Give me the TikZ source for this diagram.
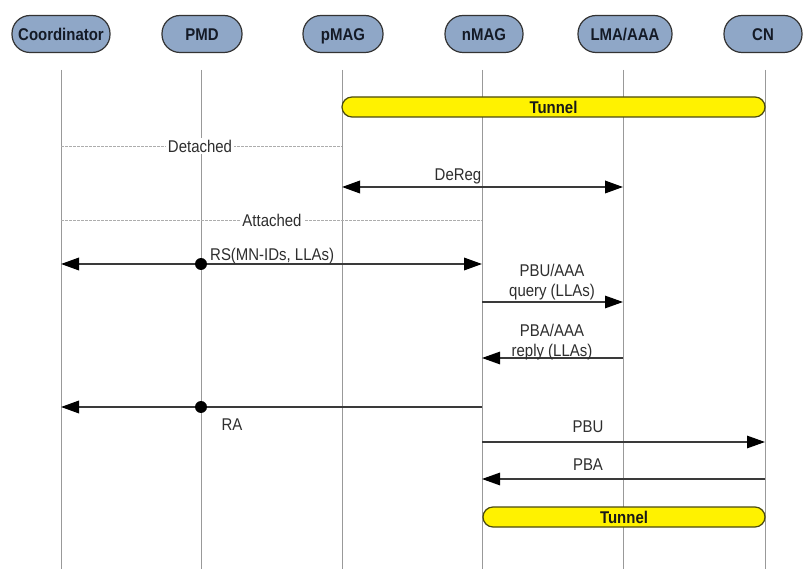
\documentclass[tikz,border=0pt]{standalone}
\usepackage{fontspec}
\setmainfont{Liberation Sans}[FakeStretch=0.88]
\usetikzlibrary{arrows.meta}
\definecolor{hdrfill}{HTML}{8FA7C7}
\definecolor{hdrtext}{HTML}{141A26}
\definecolor{msgcol}{HTML}{3A3A3A}
\definecolor{lblcol}{HTML}{2E2E2E}
\definecolor{tunborder}{HTML}{4A4A10}
\tikzset{
  tip/.tip={Triangle[length=18pt,width=12.5pt,fill=black,color=black]},
  hdr/.style={draw=black!80, line width=1.2pt, fill=hdrfill, rounded corners=18pt,
    minimum height=37pt, minimum width=80pt, inner sep=2pt, text=hdrtext,
    text height=12.5pt, text depth=0pt,
    font=\bfseries\fontsize{17}{20}\selectfont},
  life/.style={draw=black!40, line width=0.8pt},
  sep/.style={draw=black!32, line width=0.8pt, dash pattern=on 2.5pt off 1.5pt},
  tunnel/.style={draw=tunborder, line width=1.2pt, fill=yellow, rounded corners=10pt,
    minimum height=20pt, inner sep=0pt, text=black!90,
    font=\bfseries\fontsize{17}{20}\selectfont},
  msg/.style={draw=msgcol, line width=1.4pt, -tip},
  msgthick/.style={draw=msgcol, line width=1.9pt, -tip},
  dmsg/.style={draw=msgcol, line width=1.9pt, tip-tip},
  lbl/.style={text=lblcol, font=\fontsize{17}{20}\selectfont, inner sep=1pt, align=center},
  seplbl/.style={lbl, fill=white, inner sep=2pt},
  dot/.style={fill=black}
}
\begin{document}
\begin{tikzpicture}[x=1pt,y=-1pt]
\useasboundingbox (0,0) rectangle (804,569);
\fill[white] (0,0) rectangle (804,569);

% headers
\node[hdr, minimum width=98pt] (coord) at (61,34) {Coordinator};
\node[hdr] (pmd) at (202,34) {PMD};
\node[hdr] (pmag) at (343,34) {pMAG};
\node[hdr, minimum width=78pt] (nmag) at (484,34) {nMAG};
\node[hdr, minimum width=94pt] (lma) at (625,34) {LMA/AAA};
\node[hdr, minimum width=78pt] (cn) at (763,34) {CN};

% lifelines
\coordinate (l1t) at (61,70);  \coordinate (l1b) at (61,569);
\coordinate (l2t) at (201,70); \coordinate (l2b) at (201,569);
\coordinate (l3t) at (342,70); \coordinate (l3b) at (342,569);
\coordinate (l4t) at (482,70); \coordinate (l4b) at (482,569);
\coordinate (l5t) at (623,70); \coordinate (l5b) at (623,569);
\coordinate (l6t) at (765,70); \coordinate (l6b) at (765,569);
\foreach \i in {1,...,6} { \draw[life] (l\i t) -- (l\i b); }

% tunnel 1
\node[tunnel, minimum width=423pt] (tun1) at (553.5,107) {Tunnel};

% detached
\coordinate (d0) at (61,146); \coordinate (d1) at (342,146);
\draw[sep] (d0) -- (d1);
\node[seplbl] (detl) at (200,146) {Detached};

% DeReg
\coordinate (dr0) at (342,187); \coordinate (dr1) at (623,187);
\draw[dmsg] (dr0) -- (dr1);
\node[lbl, anchor=south] (drl) at (458,185) {DeReg};

% attached
\coordinate (a0) at (61,220); \coordinate (a1) at (482,220);
\draw[sep] (a0) -- (a1);
\node[seplbl] (attl) at (272,220) {Attached};

% RS
\coordinate (rs0) at (61,264); \coordinate (rsd) at (201,264); \coordinate (rs1) at (482,264);
\draw[msgthick] (rsd) -- (rs0);
\draw[msgthick] (rsd) -- (rs1);
\fill[dot] (rsd) circle (6);
\node[lbl, anchor=south west] (rsl) at (209,265) {RS(MN-IDs, LLAs)};

% PBU/AAA query
\coordinate (q0) at (482,302); \coordinate (q1) at (623,302);
\draw[msg] (q0) -- (q1);
\node[lbl, anchor=south] (ql) at (552,301) {PBU/AAA\\query (LLAs)};

% PBA/AAA reply
\coordinate (r1) at (623,358); \coordinate (r0) at (482,358);
\draw[msg] (r1) -- (r0);
\node[lbl, anchor=south] (rl) at (552,361) {PBA/AAA\\reply (LLAs)};

% RA
\coordinate (ra1) at (482,407); \coordinate (rad) at (201,407); \coordinate (ra0) at (61,407);
\draw[msgthick, -] (ra1) -- (rad);
\draw[msgthick] (rad) -- (ra0);
\fill[dot] (rad) circle (6);
\node[lbl] (ral) at (232,425) {RA};

% PBU
\coordinate (p0) at (482,442); \coordinate (p1) at (765,442);
\draw[msg] (p0) -- (p1);
\node[lbl] (pl) at (588,427) {PBU};

% PBA
\coordinate (b1) at (765,479); \coordinate (b0) at (482,479);
\draw[msg] (b1) -- (b0);
\node[lbl] (bl) at (588,465) {PBA};

% tunnel 2
\node[tunnel, minimum width=282pt] (tun2) at (624,517) {Tunnel};
\end{tikzpicture}
\end{document}
